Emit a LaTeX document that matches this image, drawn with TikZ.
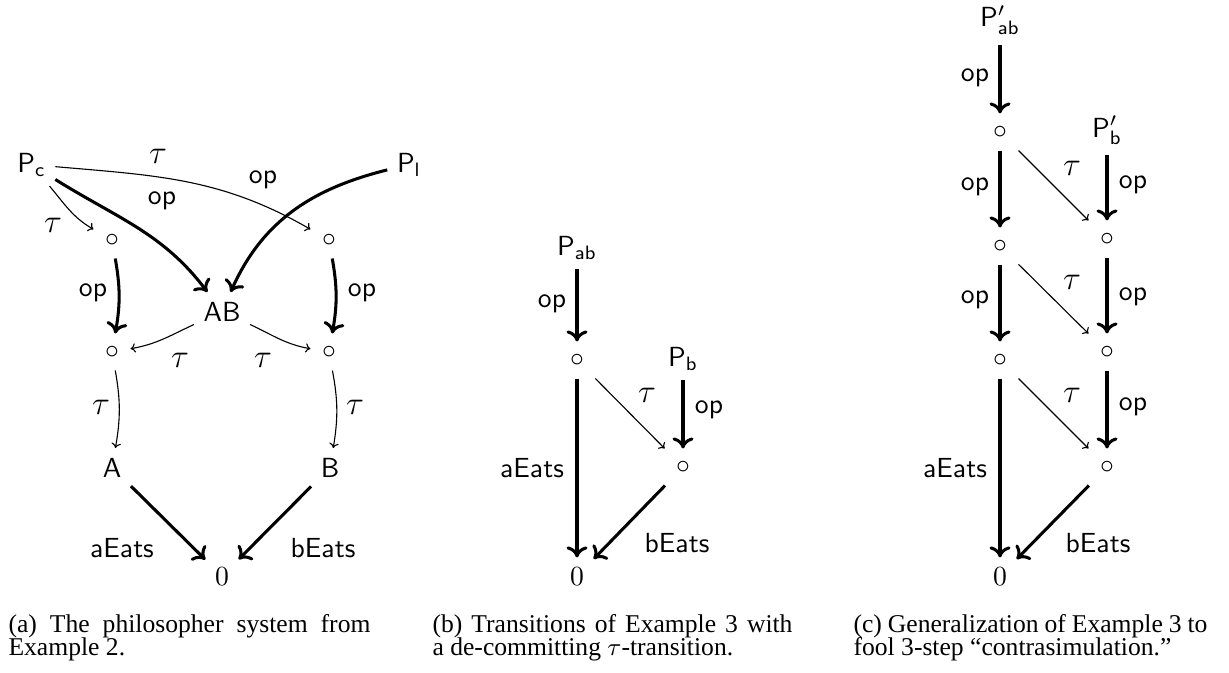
\documentclass[tikz,border=0pt]{standalone}
\usepackage{fontspec}
\newfontfamily\capfont{Liberation Serif}
\usetikzlibrary{arrows.meta}
\newcommand{\tl}{{\large$\tau$}}
\newcommand{\cc}{$\circ$}
\begin{document}
\begin{tikzpicture}[x=0.3617pt,y=0.3617pt,
  st/.style={inner sep=0.333em},
  dot/.style={minimum width=13pt,minimum height=13pt,inner sep=0pt},
  lbl/.style={inner sep=0pt},
  thk/.style={line width=1.1pt,-{Computer Modern Rightarrow[length=4pt,width=7.6pt]}},
  thn/.style={line width=0.4pt,-{Computer Modern Rightarrow[length=1.8pt,width=3.4pt]}},
  captext/.style={inner sep=0pt,anchor=base west,font=\capfont\fontsize{9.26}{8.2}\selectfont}]
\useasboundingbox (0,0) rectangle (1229,-672);

% ---------- panel (a) ----------
\node[st,anchor=base] (pc) at (31.5,-172) {$\mathsf{P_c}$};
\node[st,anchor=base] (pl) at (409,-172) {$\mathsf{P_l}$};
\node[dot] (l1) at (112,-240) {\cc};
\node[dot] (r1) at (329,-240) {\cc};
\node[st,anchor=base] (ab) at (222,-321) {\textsf{AB}};
\node[dot] (l2) at (112,-352) {\cc};
\node[dot] (r2) at (329,-352) {\cc};
\node[st,anchor=base] (na) at (112,-477) {\textsf{A}};
\node[st,anchor=base] (nb) at (330,-477) {\textsf{B}};
\node[st,anchor=base] (z1) at (222,-585) {$0$};

\draw[thn] (pc) to[out=-50,in=150] (l1);
\draw[thn] (pc) to[out=-5,in=150] (r1);
\draw[thk] (pc) to[out=-32,in=127] (ab);
\draw[thk] (pl) to[out=194,in=66] (ab);
\draw[thk] (l1) to[bend left=10] (l2);
\draw[thk] (r1) to[bend left=10] (r2);
\draw[thn] (ab) to[out=205,in=10] (l2);
\draw[thn] (ab) to[out=-25,in=170] (r2);
\draw[thn] (l2) to[bend left=10] (na);
\draw[thn] (r2) to[bend left=10] (nb);
\draw[thk] (na) -- (z1);
\draw[thk] (nb) -- (z1);

\node[lbl] (ta1) at (53,-225) {\tl};
\node[lbl] (ta2) at (158,-156) {\tl};
\node[lbl] (oa1) at (162,-201) {\textsf{op}};
\node[lbl] (oa2) at (263,-180) {\textsf{op}};
\node[lbl] (oa3) at (93,-293) {\textsf{op}};
\node[lbl] (oa4) at (362,-293) {\textsf{op}};
\node[lbl] (ta3) at (180,-360) {\tl};
\node[lbl] (ta4) at (263,-360) {\tl};
\node[lbl] (ta5) at (101,-407) {\tl};
\node[lbl] (ta6) at (355,-407) {\tl};
\node[lbl] (ea1) at (122,-548) {\textsf{aEats}};
\node[lbl] (ea2) at (323,-548) {\textsf{bEats}};

% ---------- panel (b) ----------
\node[st,anchor=base] (pab) at (577,-255) {$\mathsf{P_{ab}}$};
\node[dot] (bm) at (577,-360) {\cc};
\node[st,anchor=base] (pb) at (683,-366) {$\mathsf{P_b}$};
\node[dot] (bn) at (683,-467) {\cc};
\node[st,anchor=base] (z2) at (577,-585) {$0$};

\draw[thk] (pab) -- (bm);
\draw[thk] (bm) -- (z2);
\draw[thk] (pb) -- (bn);
\draw[thn] (bm) -- (bn);
\draw[thk] (bn) -- (z2);

\node[lbl] (ob1) at (552,-304) {\textsf{op}};
\node[lbl] (tb1) at (647,-395) {\tl};
\node[lbl] (ob2) at (709,-410) {\textsf{op}};
\node[lbl] (eb1) at (532,-468) {\textsf{aEats}};
\node[lbl] (eb2) at (677,-543) {\textsf{bEats}};

% ---------- panel (c) ----------
\node[st,anchor=base] (cab) at (1000,-27) {$\mathsf{P'_{ab}}$};
\node[dot] (c1) at (1000,-132) {\cc};
\node[dot] (c2) at (1000,-246) {\cc};
\node[dot] (c3) at (1000,-360) {\cc};
\node[st,anchor=base] (cb) at (1107,-137) {$\mathsf{P'_b}$};
\node[dot] (d1) at (1107,-239) {\cc};
\node[dot] (d2) at (1107,-352) {\cc};
\node[dot] (d3) at (1107,-467) {\cc};
\node[st,anchor=base] (z3) at (1000,-585) {$0$};

\draw[thk] (cab) -- (c1);
\draw[thk] (c1) -- (c2);
\draw[thk] (c2) -- (c3);
\draw[thk] (c3) -- (z3);
\draw[thk] (cb) -- (d1);
\draw[thk] (d1) -- (d2);
\draw[thk] (d2) -- (d3);
\draw[thn] (c1) -- (d1);
\draw[thn] (c2) -- (d2);
\draw[thn] (c3) -- (d3);
\draw[thk] (d3) -- (z3);

\node[lbl] (oc1) at (975,-78) {\textsf{op}};
\node[lbl] (oc2) at (975,-187) {\textsf{op}};
\node[lbl] (oc3) at (975,-300) {\textsf{op}};
\node[lbl] (oc4) at (1133,-185) {\textsf{op}};
\node[lbl] (oc5) at (1133,-297) {\textsf{op}};
\node[lbl] (oc6) at (1133,-407) {\textsf{op}};
\node[lbl] (tc1) at (1072,-168) {\tl};
\node[lbl] (tc2) at (1072,-282) {\tl};
\node[lbl] (tc3) at (1072,-395) {\tl};
\node[lbl] (ec1) at (955,-468) {\textsf{aEats}};
\node[lbl] (ec2) at (1098,-543) {\textsf{bEats}};

% ---------- captions ----------
\node[captext] (ca1) at (8,-632) {\makebox[130.9pt][s]{(a) The philosopher system from}};
\node[captext] (ca2) at (8,-655) {Example 2.};
\node[captext] (cb1) at (432,-632) {\makebox[130.2pt][s]{(b) Transitions of Example 3 with}};
\node[captext] (cb2) at (432,-655) {a de-committing $\tau$-transition.};
\node[captext] (cc1) at (853,-632) {\makebox[128pt][s]{(c) Generalization of Example 3 to}};
\node[captext] (cc2) at (853,-655) {fool 3-step “contrasimulation.”};
\end{tikzpicture}
\end{document}
